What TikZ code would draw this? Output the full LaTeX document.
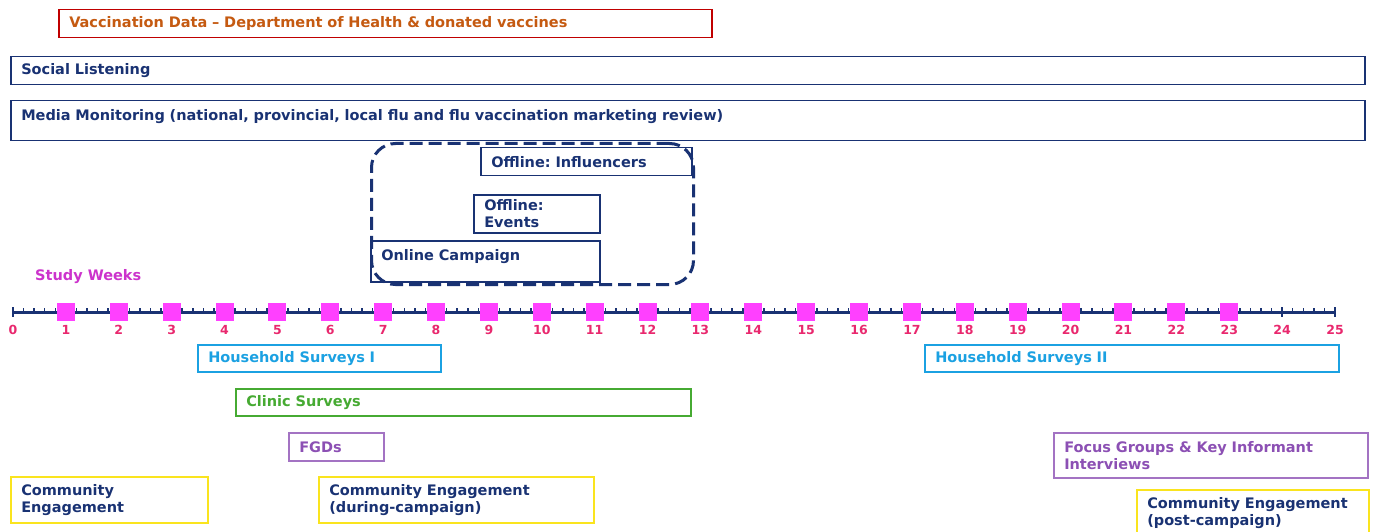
\documentclass[tikz,border=0pt]{standalone}
\usepackage{fontspec}
\setmainfont{DejaVu Sans}
\usetikzlibrary{positioning}
\frenchspacing

\definecolor{navy}{RGB}{25,50,115}
\definecolor{vacred}{RGB}{192,0,0}
\definecolor{vacorange}{RGB}{197,90,17}
\definecolor{weekpink}{RGB}{233,40,110}
\definecolor{studymag}{RGB}{204,51,204}
\definecolor{squaremag}{RGB}{255,64,255}
\definecolor{hhblue}{RGB}{27,161,226}
\definecolor{clinicgreen}{RGB}{70,170,50}
\definecolor{fgdpurple}{RGB}{140,80,180}
\definecolor{ceyellow}{RGB}{250,228,30}

\tikzset{
  phase/.style={draw, line width=1.5pt, anchor=north west, inner xsep=10.5pt, inner ysep=2pt,
    align=left, font=\bfseries\fontsize{14.5}{17}\selectfont},
  campaignbox/.style={draw=navy, line width=3pt, dash pattern=on 13pt off 6pt,
    rounded corners=24pt, anchor=north west, inner sep=0pt},
  axisline/.style={draw=navy, line width=3pt},
  weeksq/.style={fill=squaremag, minimum size=18pt, inner sep=0pt},
  weeklabel/.style={text=weekpink, font=\bfseries\fontsize{12.5}{14}\selectfont, inner sep=0pt},
}

\begin{document}
\begin{tikzpicture}[x=1pt, y=-1pt]
        \useasboundingbox[fill=white] (0,0) rectangle (1374,532);

        % top rows
        \node[phase, draw=vacred, text=vacorange, minimum width=653pt, text width=632pt, minimum height=28pt] (vacdata) at (58,9) {Vaccination Data -- Department of Health \& donated vaccines};
        \node[phase, draw=navy, text=navy, minimum width=1354pt, text width=1333pt, minimum height=28pt] (social) at (10,56) {Social Listening};
        \node[phase, draw=navy, text=navy, minimum width=1354pt, text width=1333pt, inner ysep=3pt, text height=17pt, text depth=17pt] (media) at (10,100) {Media Monitoring (national, provincial, local flu and flu vaccination marketing review)};

        % campaign
        \node[campaignbox, minimum width=322pt, minimum height=141pt] (campaign) at (370,142) {};
        \node[phase, draw=navy, text=navy, minimum width=211pt, text width=190pt, minimum height=28pt] (influencers) at (480,147) {Offline: Influencers};
        \node[phase, draw=navy, text=navy, minimum width=126pt, text width=105pt, minimum height=38pt] (events) at (473,194) {Offline:\\Events};
        \node[phase, draw=navy, text=navy, minimum width=229pt, text width=208pt, inner ysep=3pt, text height=17pt, text depth=18pt] (online) at (370,240) {Online Campaign};

        % timeline
        \node[text=studymag, font=\bfseries\fontsize{14.5}{17}\selectfont, anchor=west, inner sep=0pt] (studyweeks) at (35,277) {Study Weeks};
        \coordinate (w0) at (13,312);
        \coordinate (w25) at (1335,312);
        \draw[axisline] (w0) -- (w25);
        \foreach \t in {0,...,124}
            \draw[navy, line width=1.5pt] ({13+52.88*\t/5},308) -- ({13+52.88*\t/5},312);
        \foreach \i in {0,...,25}
            \draw[navy, line width=2pt] ({13+52.88*\i},307) -- ({13+52.88*\i},317);
        \foreach \i in {1,...,23}
            \node[weeksq] (sq\i) at ({13+52.88*\i},312) {};
        \foreach \i in {0,...,25}
            \node[weeklabel] (wk\i) at ({13+52.88*\i},330) {\i};

        % research activities
        \node[phase, draw=hhblue, text=hhblue, minimum width=243pt, text width=222pt, minimum height=27pt] (hhone) at (197,344) {Household Surveys I};
        \node[phase, draw=hhblue, text=hhblue, minimum width=414pt, text width=393pt, minimum height=27pt] (hhtwo) at (924,344) {Household Surveys II};
        \node[phase, draw=clinicgreen, text=clinicgreen, minimum width=455pt, text width=434pt, minimum height=27pt] (clinic) at (235,388) {Clinic Surveys};
        \node[phase, draw=fgdpurple!80, text=fgdpurple, minimum width=95pt, text width=74pt, minimum height=28pt] (fgds) at (288,432) {FGDs};
        \node[phase, draw=fgdpurple!80, text=fgdpurple, minimum width=314pt, text width=293pt, minimum height=45pt] (kii) at (1053,432) {Focus Groups \& Key Informant\\Interviews};

        % community engagement
        \node[phase, draw=ceyellow, text=navy, minimum width=197pt, text width=176pt, minimum height=46pt] (cepre) at (10,476) {Community\\Engagement};
        \node[phase, draw=ceyellow, text=navy, minimum width=275pt, text width=254pt, minimum height=46pt] (ceduring) at (318,476) {Community Engagement\\(during-campaign)};
        \node[phase, draw=ceyellow, text=navy, minimum width=232pt, text width=211pt, minimum height=47pt] (cepost) at (1136,489) {Community Engagement\\(post-campaign)};
\end{tikzpicture}
\end{document}
